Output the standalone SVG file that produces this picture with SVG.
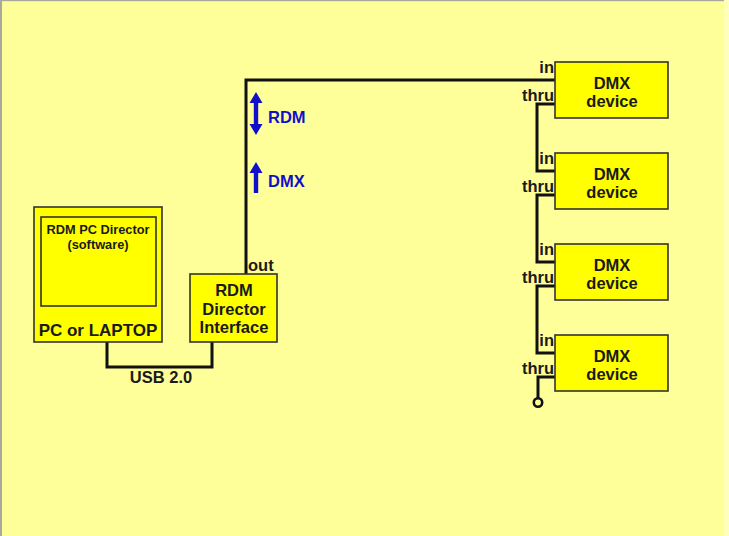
<svg xmlns="http://www.w3.org/2000/svg" width="729" height="536" viewBox="0 0 729 536">
<defs>
<style>
.box{fill:#FFFF00;stroke:#333;stroke-width:1.6}
.wire{fill:none;stroke:#111;stroke-width:3;stroke-linejoin:miter}
.t{font-family:"Liberation Sans",Arial,sans-serif;font-weight:bold;fill:#1a1a1a}
.c{text-anchor:middle;font-size:16.5px}
.s{text-anchor:middle;font-size:12.8px}
.p{font-size:16.5px;text-anchor:end}
.blue{fill:#1010CC}
</style>
</defs>
<rect x="0" y="0" width="729" height="536" fill="#FFFF99"/>
<rect x="0" y="0" width="2" height="536" fill="#A8A8A0"/>
<rect x="0" y="0" width="729" height="1.2" fill="#A8A8A0"/>
<rect x="724" y="0" width="5" height="536" fill="#FFFFB8"/>

<g id="connectors">
<polyline class="wire" points="107,342 107,367 212,367 212,342"/>
<polyline class="wire" points="246,274 246,80 555,80"/>
<polyline class="wire" points="555,104 537,104 537,171 555,171"/>
<polyline class="wire" points="555,195 537,195 537,262 555,262"/>
<polyline class="wire" points="555,286 537,286 537,353 555,353"/>
<polyline class="wire" points="555,377 538,377 538,398"/>
<circle cx="538" cy="402.5" r="4.2" fill="none" stroke="#111" stroke-width="2.6"/>
<text class="t" x="161" y="383" text-anchor="middle" font-size="16.5">USB 2.0</text>
<text class="t" x="248" y="271" font-size="16.5">out</text>
</g>

<g id="pc">
<rect class="box" x="34" y="207" width="128" height="135"/>
<rect class="box" x="41" y="217" width="115" height="89"/>
<text class="t s" x="98" y="234">RDM PC Director</text>
<text class="t s" x="98" y="249">(software)</text>
<text class="t" x="98" y="336" text-anchor="middle" font-size="17">PC or LAPTOP</text>
</g>

<g id="interface">
<rect class="box" x="190" y="274" width="87" height="68"/>
<text class="t c" x="234" y="296">RDM</text>
<text class="t c" x="234" y="314.5">Director</text>
<text class="t c" x="234" y="333">Interface</text>
</g>

<g id="rdm-arrow">
<polygon class="blue" points="256,92 262.5,103 258.2,103 258.2,124 262.5,124 256,135 249.5,124 253.8,124 253.8,103 249.5,103"/>
<text class="t blue" x="268" y="123" font-size="16.5">RDM</text>
</g>
<g id="dmx-arrow">
<polygon class="blue" points="256,162 262.5,173 258.2,173 258.2,193 253.8,193 253.8,173 249.5,173"/>
<text class="t blue" x="268" y="187" font-size="16.5">DMX</text>
</g>

<g id="dmx1">
<rect class="box" x="555" y="62" width="113" height="56"/>
<text class="t c" x="612" y="89">DMX</text>
<text class="t c" x="612" y="107">device</text>
<text class="t p" x="554" y="73">in</text>
<text class="t p" x="554" y="101">thru</text>
</g>
<g id="dmx2">
<rect class="box" x="555" y="153" width="113" height="56"/>
<text class="t c" x="612" y="180">DMX</text>
<text class="t c" x="612" y="198">device</text>
<text class="t p" x="554" y="164">in</text>
<text class="t p" x="554" y="192">thru</text>
</g>
<g id="dmx3">
<rect class="box" x="555" y="244" width="113" height="56"/>
<text class="t c" x="612" y="271">DMX</text>
<text class="t c" x="612" y="289">device</text>
<text class="t p" x="554" y="255">in</text>
<text class="t p" x="554" y="283">thru</text>
</g>
<g id="dmx4">
<rect class="box" x="555" y="335" width="113" height="56"/>
<text class="t c" x="612" y="362">DMX</text>
<text class="t c" x="612" y="380">device</text>
<text class="t p" x="554" y="346">in</text>
<text class="t p" x="554" y="374">thru</text>
</g>
</svg>
